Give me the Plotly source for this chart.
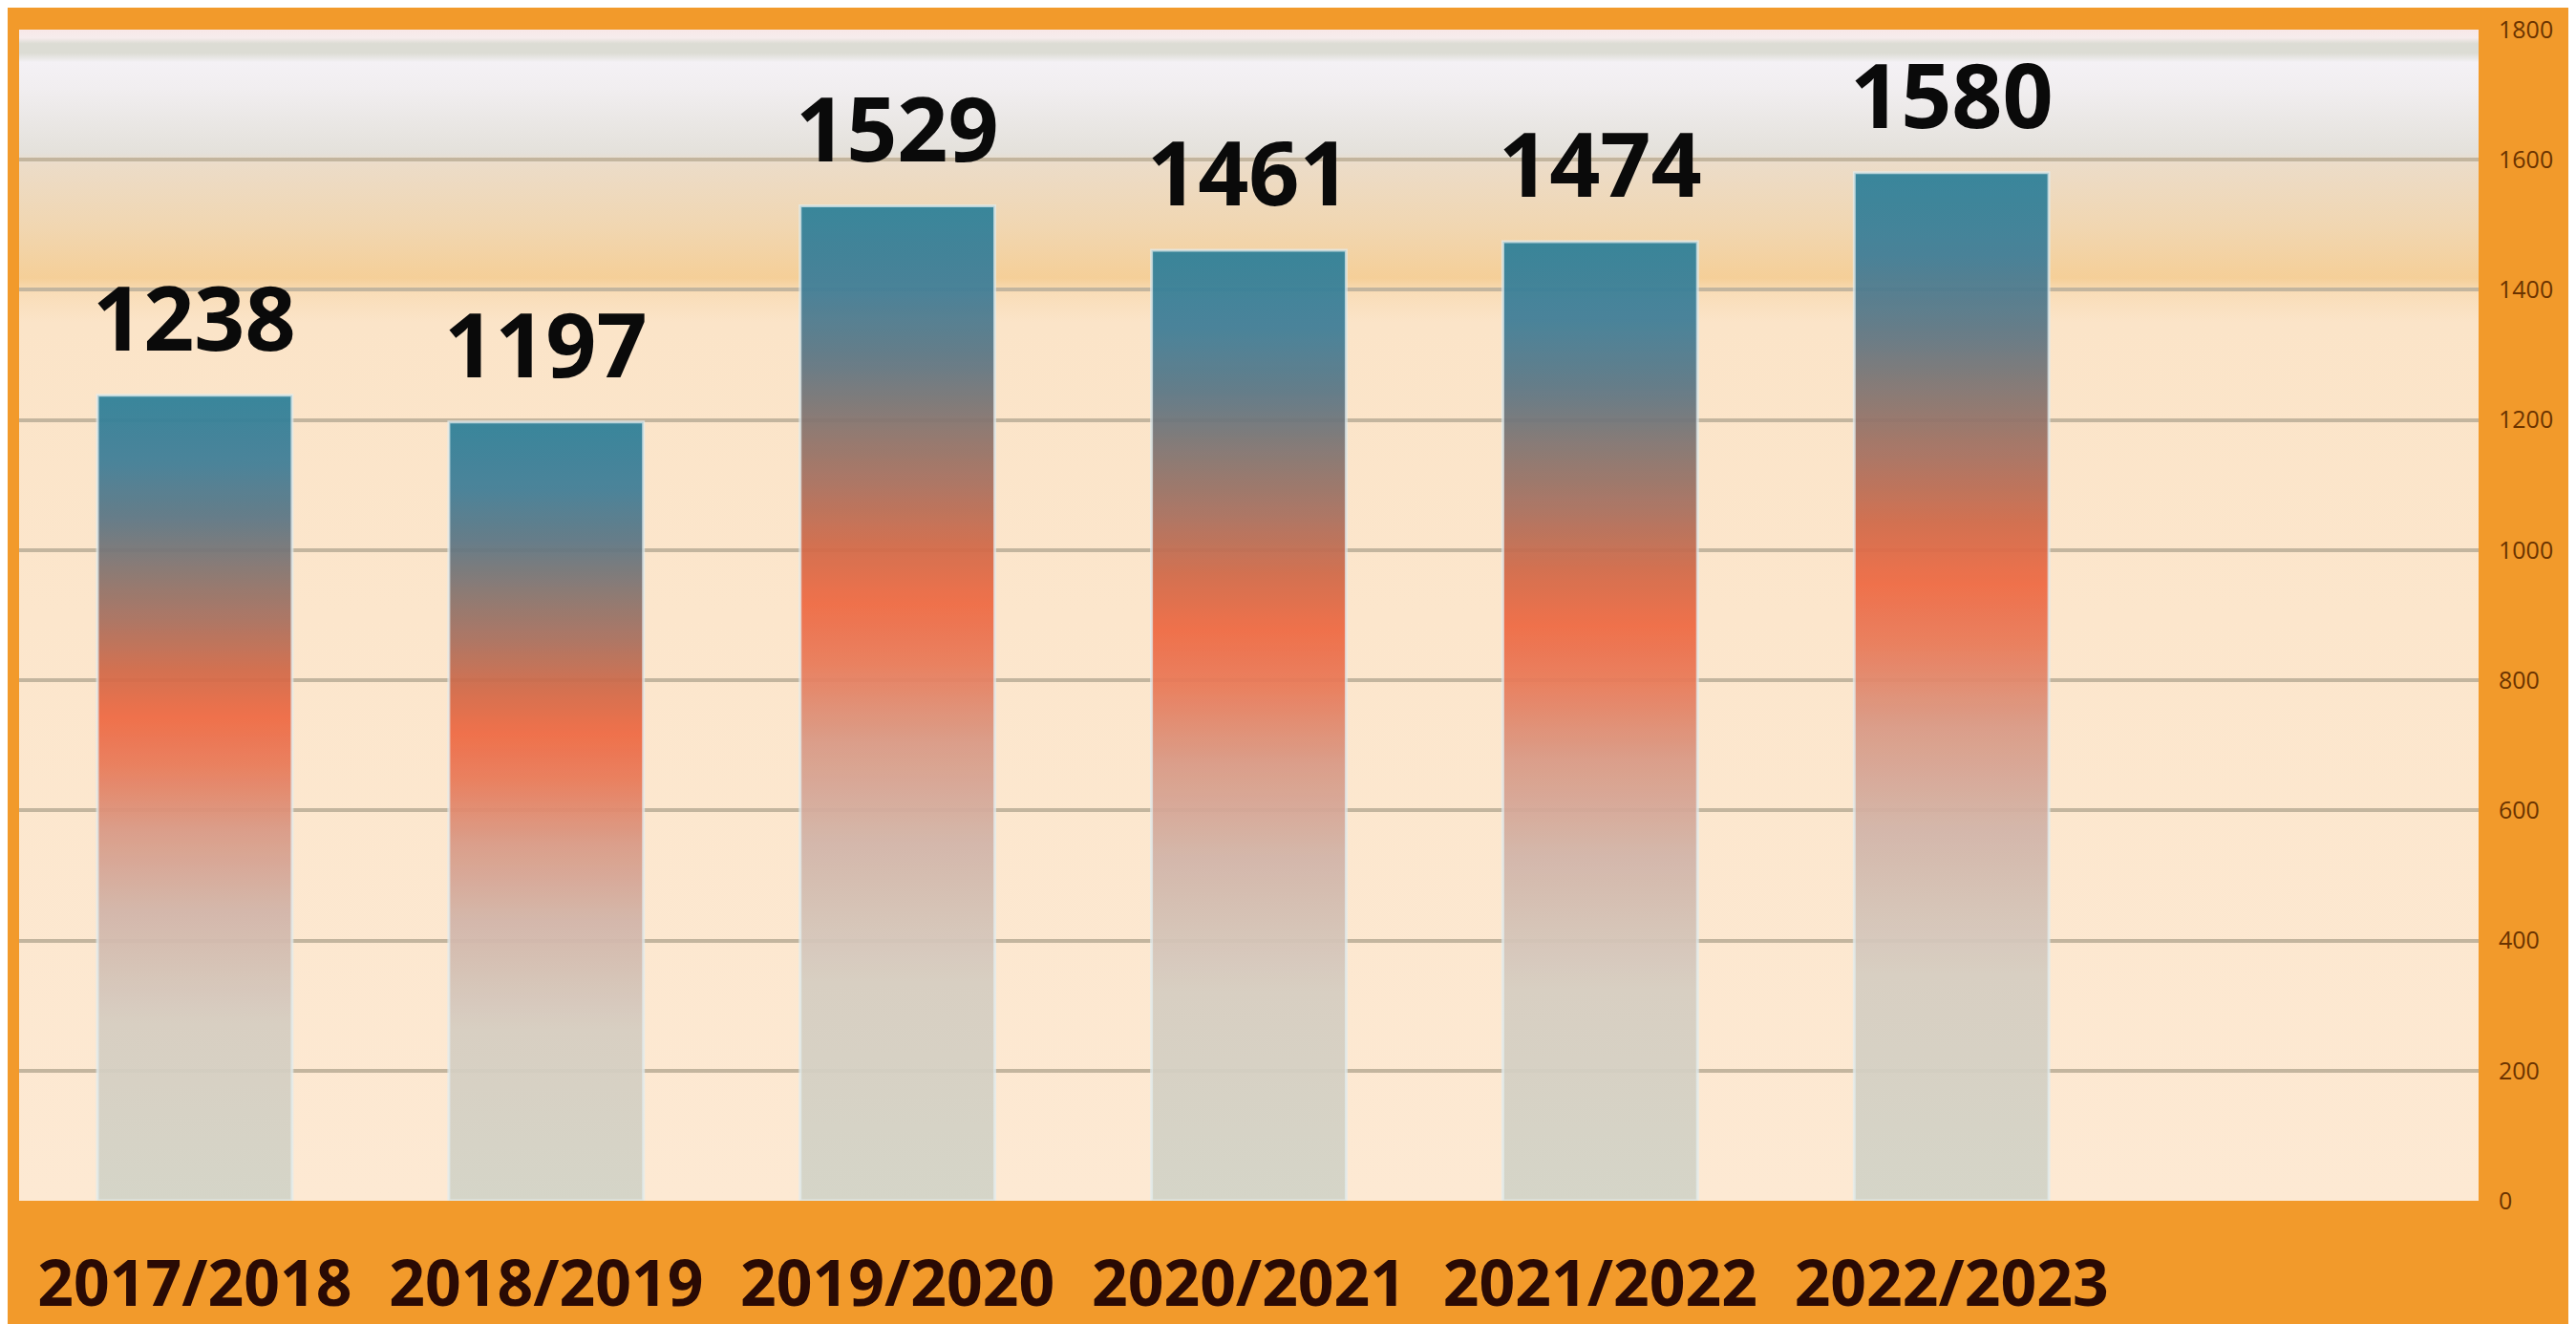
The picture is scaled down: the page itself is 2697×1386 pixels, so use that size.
import base64
import plotly.graph_objects as go

# ---- data ----
categories = ["2017/2018", "2018/2019", "2019/2020", "2020/2021", "2021/2022", "2022/2023"]
values = [1238, 1197, 1529, 1461, 1474, 1580]
y_ticks = [0, 200, 400, 600, 800, 1000, 1200, 1400, 1600, 1800]

# ---- style ----
ORANGE = "#f29a2b"
BAR_HALF = 0.277
bar_scale = [
    [0.00, "#d3d4c8"],
    [0.22, "#d6cec2"],
    [0.36, "#d2b5a9"],
    [0.46, "#d99a86"],
    [0.54, "#e87b5a"],
    [0.60, "#ef6a44"],
    [0.66, "#d06a4a"],
    [0.72, "#aa715f"],
    [0.78, "#87756f"],
    [0.85, "#5c7786"],
    [0.92, "#3f7e98"],
    [1.00, "#2e8199"],
]

svg = """<svg xmlns='http://www.w3.org/2000/svg' width='100' height='1000' preserveAspectRatio='none'>
<defs><linearGradient id='g' x1='0' y1='0' x2='0' y2='1'>
<stop offset='0' stop-color='#f8e8e8'/>
<stop offset='0.007' stop-color='#f6ecec'/>
<stop offset='0.012' stop-color='#dcdcd4'/>
<stop offset='0.02' stop-color='#dcdcd4'/>
<stop offset='0.028' stop-color='#f4f1f5'/>
<stop offset='0.05' stop-color='#f1eef0'/>
<stop offset='0.105' stop-color='#e4e1db'/>
<stop offset='0.115' stop-color='#ecdcc8'/>
<stop offset='0.17' stop-color='#f1d6b0'/>
<stop offset='0.212' stop-color='#f5cf98'/>
<stop offset='0.225' stop-color='#f9ddb8'/>
<stop offset='0.25' stop-color='#fbe4c8'/>
<stop offset='0.5' stop-color='#fce6cc'/>
<stop offset='1' stop-color='#fde9d3'/>
</linearGradient></defs>
<rect x='0' y='0' width='100' height='1000' fill='url(#g)'/>
</svg>"""
bg_uri = "data:image/svg+xml;base64," + base64.b64encode(svg.encode()).decode()

fig = go.Figure()

for i, (cat, v) in enumerate(zip(categories, values)):
    fig.add_trace(go.Scatter(
        x=[i - BAR_HALF, i - BAR_HALF, i + BAR_HALF, i + BAR_HALF, i - BAR_HALF],
        y=[0, v, v, 0, 0],
        mode="lines",
        fill="toself",
        fillgradient=dict(type="vertical", colorscale=bar_scale, start=0, stop=v),
        line=dict(color="rgba(225,238,240,0.75)", width=3),
        opacity=0.94,
        name=cat,
        hoverinfo="skip",
        showlegend=False,
    ))
    fig.add_annotation(
        x=i, y=v, text=str(v), showarrow=False,
        yanchor="bottom", yshift=18,
        font=dict(family="Open Sans", size=93, color="#0a0a0a", weight=700),
    )

fig.update_layout(
    width=2697, height=1386,
    margin=dict(l=12, r=110, t=23, b=137),
    paper_bgcolor=ORANGE,
    plot_bgcolor="rgba(0,0,0,0)",
    showlegend=False,
    images=[dict(
        source=bg_uri, xref="paper", yref="paper", x=0, y=1,
        sizex=1, sizey=1, sizing="stretch", xanchor="left", yanchor="top",
        layer="below",
    )],
    xaxis=dict(
        range=[-0.5, 6.5],
        tickmode="array",
        tickvals=list(range(len(categories))),
        ticktext=categories,
        tickfont=dict(family="Open Sans", size=66, color="#2a0a04", weight=700),
        showgrid=False, zeroline=False, showline=False,
        ticks="", ticklabelstandoff=43,
        automargin=False,
        fixedrange=True,
    ),
    yaxis=dict(
        range=[0, 1800],
        side="right",
        tickmode="array",
        tickvals=y_ticks,
        tickfont=dict(family="Open Sans", size=25, color="#6a3300"),
        showgrid=True, gridcolor="#c3b59e", gridwidth=4,
        zeroline=False, showline=False,
        ticks="", ticklabelstandoff=20,
        automargin=False,
        fixedrange=True,
    ),
)

fig.write_html("out.html")
